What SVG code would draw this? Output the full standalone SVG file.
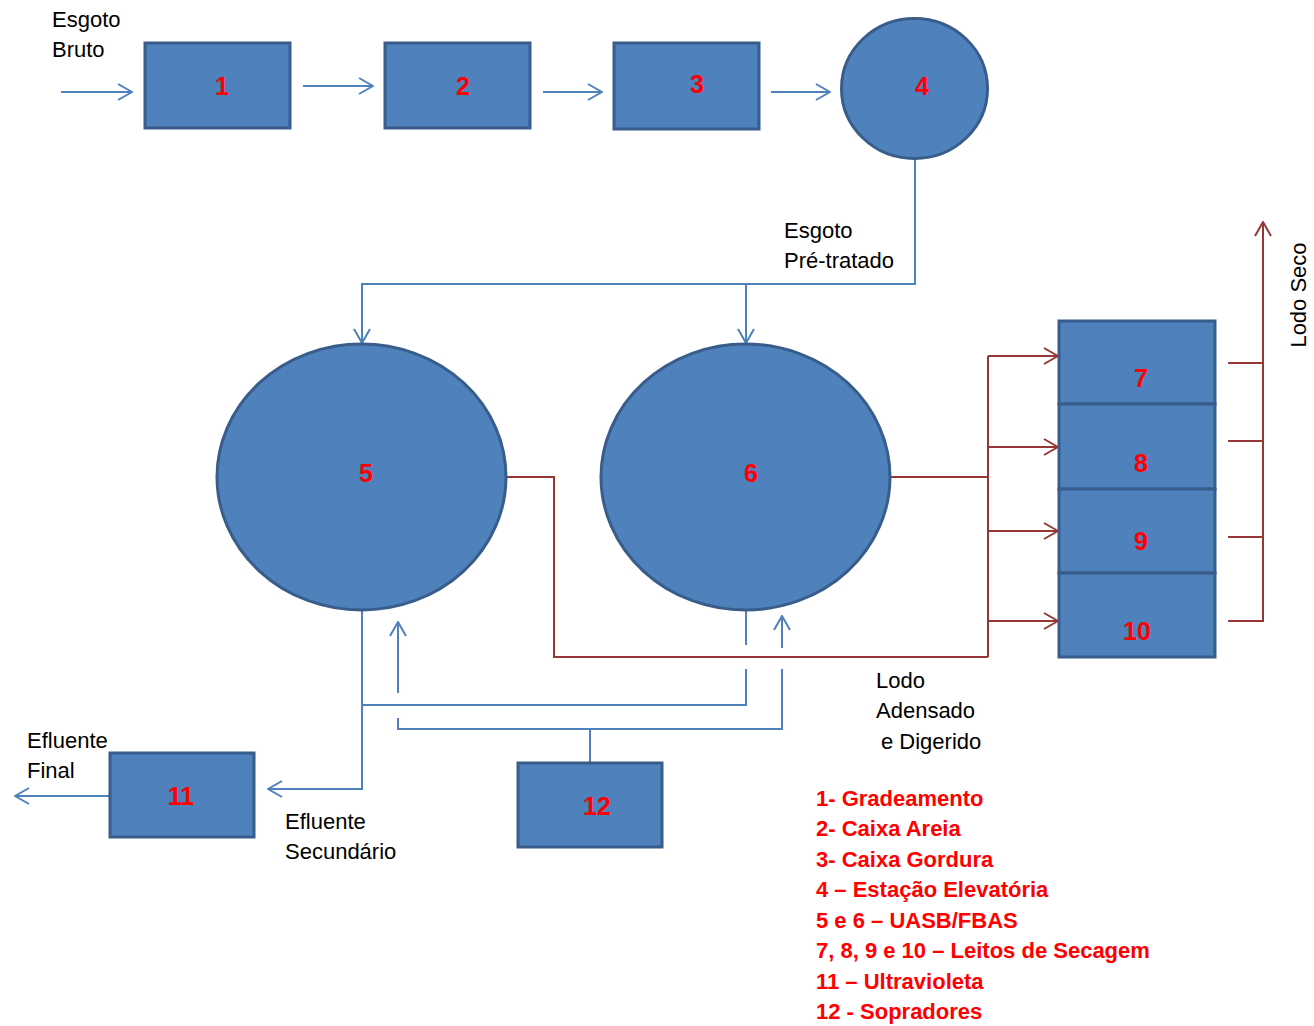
<svg xmlns="http://www.w3.org/2000/svg" width="1314" height="1026" viewBox="0 0 1314 1026">
<defs>
<style>
.n{fill:#4F81BD;stroke:#385D8A;stroke-width:3}
.num{font-family:"Liberation Sans",Arial,sans-serif;font-weight:bold;font-size:25px;fill:#FF0000;text-anchor:middle}
.lbl{font-family:"Liberation Sans",Arial,sans-serif;font-size:22px;fill:#000}
.leg{font-family:"Liberation Sans",Arial,sans-serif;font-weight:bold;font-size:22px;fill:#FF0000}
.b{fill:none;stroke:#4F81BD;stroke-width:2}
.r{fill:none;stroke:#953735;stroke-width:2}
</style>
<marker id="ab" markerUnits="userSpaceOnUse" viewBox="0 0 16 18" refX="15" refY="9" markerWidth="16" markerHeight="18" orient="auto"><path d="M1,1 L15,9 L1,17" fill="none" stroke="#4F81BD" stroke-width="2"/></marker>
<marker id="ar" markerUnits="userSpaceOnUse" viewBox="0 0 16 18" refX="15" refY="9" markerWidth="16" markerHeight="18" orient="auto"><path d="M1,1 L15,9 L1,17" fill="none" stroke="#953735" stroke-width="2"/></marker>
</defs>
<g id="connectors">
<line class="b" x1="61" y1="92" x2="132" y2="92" marker-end="url(#ab)"/>
<line class="b" x1="303" y1="86" x2="373" y2="86" marker-end="url(#ab)"/>
<line class="b" x1="543" y1="92" x2="602" y2="92" marker-end="url(#ab)"/>
<line class="b" x1="771" y1="92" x2="830" y2="92" marker-end="url(#ab)"/>
<polyline class="b" points="915,159 915,284 362,284 362,343" marker-end="url(#ab)"/>
<line class="b" x1="746" y1="284" x2="746" y2="343" marker-end="url(#ab)"/>
<polyline class="r" points="506,477 554,477 554,657 988,657"/>
<line class="r" x1="890" y1="477" x2="988" y2="477"/>
<line class="r" x1="988" y1="356" x2="988" y2="657"/>
<line class="r" x1="988" y1="356" x2="1058" y2="356" marker-end="url(#ar)"/>
<line class="r" x1="988" y1="447" x2="1058" y2="447" marker-end="url(#ar)"/>
<line class="r" x1="988" y1="531" x2="1058" y2="531" marker-end="url(#ar)"/>
<line class="r" x1="988" y1="621" x2="1058" y2="621" marker-end="url(#ar)"/>
<line class="r" x1="1228" y1="363" x2="1263" y2="363"/>
<line class="r" x1="1228" y1="441" x2="1263" y2="441"/>
<line class="r" x1="1228" y1="537" x2="1263" y2="537"/>
<polyline class="r" points="1228,621 1263,621 1263,222" marker-end="url(#ar)"/>
<polyline class="b" points="362,610 362,789 268,789" marker-end="url(#ab)"/>
<line class="b" x1="109" y1="796" x2="15" y2="796" marker-end="url(#ab)"/>
<line class="b" x1="746" y1="610" x2="746" y2="645"/>
<polyline class="b" points="746,669 746,705 362,705"/>
<line class="b" x1="398" y1="693" x2="398" y2="622" marker-end="url(#ab)"/>
<line class="b" x1="782" y1="648" x2="782" y2="616" marker-end="url(#ab)"/>
<polyline class="b" points="398,718 398,729 782,729 782,669"/>
<line class="b" x1="590" y1="729" x2="590" y2="762"/>
</g>
<g id="node1"><rect class="n" x="145" y="43" width="145" height="85"/><text class="num" x="222" y="95">1</text></g>
<g id="node2"><rect class="n" x="385" y="43" width="145" height="85"/><text class="num" x="463" y="95">2</text></g>
<g id="node3"><rect class="n" x="614" y="43" width="145" height="86"/><text class="num" x="697" y="93">3</text></g>
<g id="node4"><ellipse class="n" cx="914.5" cy="88.5" rx="73" ry="70"/><text class="num" x="922" y="95">4</text></g>
<g id="node5"><ellipse class="n" cx="361.5" cy="477" rx="144.5" ry="133"/><text class="num" x="366" y="482">5</text></g>
<g id="node6"><ellipse class="n" cx="745.5" cy="477" rx="144.5" ry="133"/><text class="num" x="751" y="482">6</text></g>
<g id="node7"><rect class="n" x="1059" y="321" width="156" height="83"/><text class="num" x="1141" y="387">7</text></g>
<g id="node8"><rect class="n" x="1059" y="404" width="156" height="85"/><text class="num" x="1141" y="472">8</text></g>
<g id="node9"><rect class="n" x="1059" y="489" width="156" height="84"/><text class="num" x="1141" y="550">9</text></g>
<g id="node10"><rect class="n" x="1059" y="573" width="156" height="84"/><text class="num" x="1137" y="640">10</text></g>
<g id="node11"><rect class="n" x="110" y="753" width="144" height="84"/><text class="num" x="181" y="805">11</text></g>
<g id="node12"><rect class="n" x="518" y="763" width="144" height="84"/><text class="num" x="597" y="815">12</text></g>
<g id="labels">
<text class="lbl" x="52" y="27">Esgoto</text>
<text class="lbl" x="52" y="57">Bruto</text>
<text class="lbl" x="784" y="238">Esgoto</text>
<text class="lbl" x="784" y="268">Pré-tratado</text>
<text class="lbl" x="1306" y="295" transform="rotate(-90 1306 295)" text-anchor="middle">Lodo Seco</text>
<text class="lbl" x="876" y="688">Lodo</text>
<text class="lbl" x="876" y="718">Adensado</text>
<text class="lbl" x="881" y="749">e Digerido</text>
<text class="lbl" x="27" y="748">Efluente</text>
<text class="lbl" x="27" y="778">Final</text>
<text class="lbl" x="285" y="829">Efluente</text>
<text class="lbl" x="285" y="859">Secundário</text>
</g>
<g id="legend">
<text class="leg" x="816" y="806">1- Gradeamento</text>
<text class="leg" x="816" y="836">2- Caixa Areia</text>
<text class="leg" x="816" y="867">3- Caixa Gordura</text>
<text class="leg" x="816" y="897">4 – Estação Elevatória</text>
<text class="leg" x="816" y="928">5 e 6 – UASB/FBAS</text>
<text class="leg" x="816" y="958">7, 8, 9 e 10 – Leitos de Secagem</text>
<text class="leg" x="816" y="989">11 – Ultravioleta</text>
<text class="leg" x="816" y="1019">12 - Sopradores</text>
</g>
</svg>
